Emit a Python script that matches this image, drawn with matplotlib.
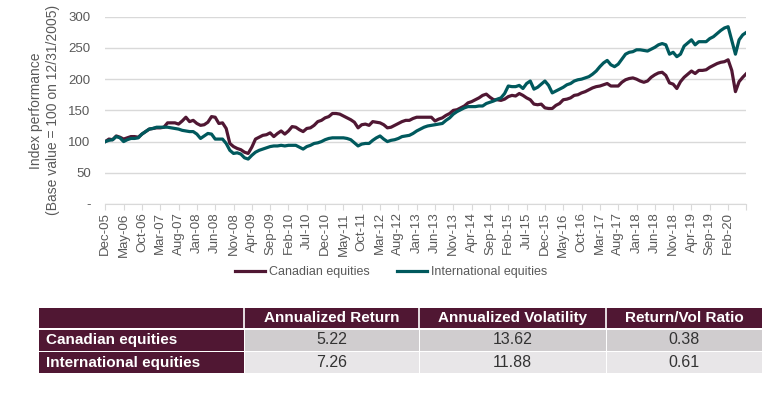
import matplotlib
matplotlib.use("Agg")
import matplotlib.pyplot as plt
import pandas as pd
from matplotlib import font_manager
from matplotlib.patches import Rectangle

# monthly index levels, Dec-05 .. Jul-20 (base 100)
canadian = [100, 104, 103, 109, 107, 104, 106, 108, 108, 107,
            112, 116, 120, 121, 122, 122, 123, 130, 130, 130,
            128, 133, 139, 132, 134, 129, 126, 127, 131, 140,
            139, 129, 130, 121, 97, 92, 89, 87, 83, 81,
            91, 104, 107, 110, 111, 114, 108, 113, 117, 112,
            117, 124, 123, 119, 116, 121, 122, 126, 132, 134,
            138, 140, 145, 145, 144, 141, 138, 135, 131, 122,
            127, 128, 126, 132, 131, 130, 127, 122, 123, 126,
            129, 132, 134, 134, 137, 139, 139, 139, 139, 139,
            133, 136, 138, 142, 145, 150, 151, 154, 157, 162,
            164, 167, 170, 174, 176, 171, 167, 167, 166, 168,
            172, 174, 173, 177, 174, 170, 167, 160, 159, 160,
            154, 153, 153, 158, 161, 167, 168, 170, 174, 175,
            178, 180, 183, 186, 188, 189, 191, 193, 189, 189,
            189, 195, 199, 201, 202, 200, 197, 195, 197, 203,
            207, 210, 211, 206, 194, 192, 185, 196, 203, 208,
            213, 209, 214, 214, 215, 219, 222, 225, 227, 228,
            231, 214, 180, 196, 203, 209]
international = [100, 102, 103, 108, 106, 100, 103, 105, 105, 106,
                 112, 116, 120, 121, 123, 123, 123, 123, 122, 121,
                 120, 118, 117, 116, 116, 112, 105, 109, 113, 112,
                 104, 104, 104, 97, 86, 81, 82, 80, 74, 72,
                 78, 83, 86, 88, 90, 92, 93, 93, 94, 93,
                 94, 94, 94, 91, 88, 92, 94, 97, 98, 100,
                 103, 105, 106, 106, 106, 106, 105, 103, 98, 93,
                 96, 97, 97, 102, 106, 109, 104, 100, 102, 103,
                 105, 108, 109, 110, 113, 117, 120, 123, 125, 126,
                 127, 128, 129, 134, 138, 144, 148, 151, 154, 156,
                 156, 156, 157, 157, 161, 163, 165, 168, 170, 177,
                 189, 188, 188, 190, 185, 193, 197, 184, 187, 192,
                 197, 190, 178, 181, 184, 187, 191, 193, 197, 199,
                 200, 202, 204, 208, 213, 220, 226, 230, 223, 220,
                 224, 232, 240, 243, 244, 247, 247, 246, 245, 248,
                 251, 255, 257, 255, 240, 243, 236, 240, 253, 258,
                 263, 255, 260, 260, 260, 265, 268, 273, 278, 282,
                 284, 262, 240, 263, 271, 275]
dates = pd.date_range("2005-12-31", periods=len(canadian), freq="ME")

series_names = ["Canadian equities", "International equities"]
col_labels = ["Annualized Return", "Annualized Volatility", "Return/Vol Ratio"]
table_values = [["5.22", "13.62", "0.38"],
                ["7.26", "11.88", "0.61"]]

MAROON = "#501733"
TEAL = "#00595d"
GREY = "#595959"

names = {f.name for f in font_manager.fontManager.ttflist}
narrow = "Liberation Sans Narrow" if "Liberation Sans Narrow" in names else "Liberation Sans"
plt.rcParams["font.family"] = ["Liberation Sans", "DejaVu Sans"]

fig = plt.figure(figsize=(7.64, 3.99), dpi=100)
ax = fig.add_axes([0.1378, 0.4887, 0.8392, 0.4694])

x = list(range(len(canadian)))
ax.plot(x, canadian, color=MAROON, lw=2.3, label=series_names[0])
ax.plot(x, international, color=TEAL, lw=2.3, label=series_names[1])

ax.set_xlim(0, len(canadian) - 1)
ax.set_ylim(0, 300)
yt = [0, 50, 100, 150, 200, 250, 300]
ax.set_yticks(yt)
ax.set_yticklabels(["-" if v == 0 else str(v) for v in yt], color=GREY, fontsize=9.5)
ax.yaxis.grid(True, color="#d9d9d9", lw=1)
ax.set_axisbelow(True)
ax.tick_params(axis="y", length=0, pad=10.5)

xt = x[::5]
ax.set_xticks(xt)
# the last tick (Jul-20) carries no label in the original
ax.set_xticklabels([dates[i].strftime("%b-%y") if i < 175 else "" for i in xt],
                   rotation=90, color=GREY, fontsize=9.5)
ax.tick_params(axis="x", length=4, color="#d9d9d9", pad=2)
for s in ["top", "right", "left"]:
    ax.spines[s].set_visible(False)
ax.spines["bottom"].set_color("#d9d9d9")

ax.set_ylabel("Index performance\n(Base value = 100 on 12/31/2005)",
              color=GREY, fontsize=10, labelpad=6, linespacing=1.25)

fig.legend(loc="center", bbox_to_anchor=(391 / 764, 1 - 272 / 399), ncol=2,
           frameon=False, fontsize=9, handlelength=2.4, columnspacing=2.2,
           handletextpad=0.3, labelcolor=GREY)

# table drawn in pixel coordinates
tax = fig.add_axes([0, 0, 1, 1], zorder=-1)
tax.set_xlim(0, 764)
tax.set_ylim(399, 0)
tax.axis("off")

col_edges = [39, 244, 419, 606, 762]
row_edges = [(308, 328), (329.5, 350.5), (352, 373)]
row_fill = ["#d0cdcf", "#e8e6e8"]

top, bot = row_edges[0]
tax.add_patch(Rectangle((col_edges[0], top), col_edges[-1] - col_edges[0], bot - top,
                        color=MAROON, lw=0))
for j, lab in enumerate(col_labels):
    xc = (col_edges[j + 1] + col_edges[j + 2]) / 2
    tax.text(xc, (top + bot) / 2, lab, color="white", fontweight="bold",
             fontsize=11, ha="center", va="center", family=narrow)
for j in range(1, 4):
    tax.plot([col_edges[j], col_edges[j]], [top, bot], color="white", lw=1.2)

for i, name in enumerate(series_names):
    top, bot = row_edges[i + 1]
    tax.add_patch(Rectangle((col_edges[0], top), col_edges[1] - col_edges[0], bot - top,
                            color=MAROON, lw=0))
    tax.text(col_edges[0] + 7, (top + bot) / 2, name, color="white",
             fontweight="bold", fontsize=11, ha="left", va="center", family=narrow)
    for j in range(3):
        x0 = col_edges[j + 1] + 1
        tax.add_patch(Rectangle((x0, top), col_edges[j + 2] - x0, bot - top,
                                color=row_fill[i], lw=0))
        tax.text((col_edges[j + 1] + col_edges[j + 2]) / 2, (top + bot) / 2,
                 table_values[i][j], color="#333333", fontsize=11.5,
                 ha="center", va="center", family=narrow)

fig.savefig("out.png", dpi=100)
